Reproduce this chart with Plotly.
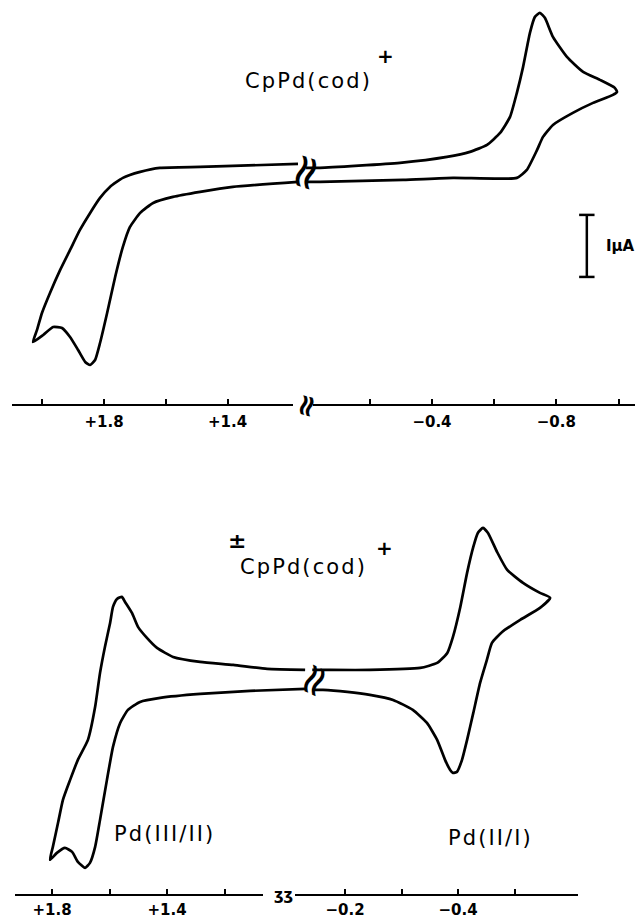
import plotly.graph_objects as go

# Voltamogramas CpPd(cod)+ : potencial (V) y corriente (uA), leidos de la figura
# panel superior, rama de potenciales positivos
top_left_v = [1.172, 1.383, 1.489, 1.619, 1.683, 1.739, 1.781, 1.813, 1.845, 1.878, 1.910, 1.942,
              1.975, 2.001, 2.017, 2.030, 1.997, 1.965, 1.936, 1.910, 1.884, 1.861, 1.845, 1.829,
              1.813, 1.790, 1.764, 1.739, 1.716, 1.683, 1.641, 1.577, 1.489, 1.383, 1.172]
top_left_i = [0.177, 0.145, 0.129, 0.113, 0.048, -0.048, -0.194, -0.371, -0.613, -0.887, -1.210, -1.532,
              -1.903, -2.226, -2.500, -2.694, -2.581, -2.452, -2.468, -2.613, -2.823, -3.016, -3.065, -2.984,
              -2.710, -2.226, -1.645, -1.161, -0.839, -0.613, -0.452, -0.355, -0.274, -0.194, -0.113]

# panel superior, rama de potenciales negativos
top_right_v = [0.005, -0.040, -0.297, -0.448, -0.522, -0.577, -0.619, -0.651, -0.673, -0.693, -0.715, -0.731,
               -0.747, -0.763, -0.789, -0.834, -0.886, -0.940, -0.988, -0.995, -0.982, -0.918, -0.853, -0.789,
               -0.757, -0.738, -0.705, -0.673, -0.468, -0.307, -0.040, 0.005]
top_right_i = [0.113, 0.113, 0.194, 0.290, 0.371, 0.484, 0.677, 0.935, 1.323, 1.742, 2.290, 2.548,
               2.613, 2.532, 2.226, 1.903, 1.661, 1.532, 1.403, 1.339, 1.290, 1.161, 1.000, 0.806,
               0.613, 0.403, 0.081, -0.048, -0.048, -0.081, -0.113, -0.113]

# panel inferior, rama positiva: Pd(III/II)
bot_left_v = [0.920, 1.052, 1.170, 1.285, 1.379, 1.435, 1.470, 1.501, 1.522, 1.546, 1.557, 1.574, 1.588,
              1.598, 1.616, 1.633, 1.650, 1.675, 1.710, 1.737, 1.762, 1.779, 1.797, 1.807, 1.783, 1.755,
              1.730, 1.710, 1.685, 1.668, 1.650, 1.633, 1.609, 1.588, 1.563, 1.536, 1.494, 1.424, 1.285,
              1.111, 0.920]
bot_left_i = [0.161, 0.177, 0.242, 0.290, 0.371, 0.516, 0.677, 0.855, 1.081, 1.258, 1.339, 1.306, 1.177,
              0.919, 0.532, 0.113, -0.435, -0.968, -1.290, -1.613, -1.935, -2.306, -2.694, -2.903, -2.790, -2.710,
              -2.774, -2.935, -3.032, -2.952, -2.694, -2.258, -1.613, -1.081, -0.694, -0.484, -0.355, -0.290, -0.226,
              -0.177, -0.145]

# panel inferior, rama negativa: Pd(II/I)
bot_right_v = [-0.142, -0.161, -0.244, -0.333, -0.363, -0.381, -0.391, -0.404, -0.416, -0.427, -0.435, -0.444,
               -0.453, -0.469, -0.487, -0.515, -0.545, -0.563, -0.545, -0.510, -0.478, -0.460, -0.451, -0.439,
               -0.427, -0.416, -0.407, -0.398, -0.391, -0.386, -0.377, -0.363, -0.345, -0.320, -0.285, -0.244,
               -0.204, -0.161, -0.142]
bot_right_i = [0.161, 0.161, 0.161, 0.194, 0.274, 0.435, 0.694, 1.177, 1.726, 2.145, 2.371, 2.452,
               2.371, 2.065, 1.774, 1.565, 1.403, 1.323, 1.161, 0.968, 0.774, 0.597, 0.323, -0.048,
               -0.532, -0.968, -1.290, -1.484, -1.500, -1.452, -1.290, -0.968, -0.694, -0.484, -0.323, -0.242,
               -0.194, -0.161, -0.161]

# barra de escala de 1 uA
scale_bar_v = [-0.898, -0.898]
scale_bar_i = [-0.645, -1.645]

# marcas de los ejes
top_left_ticks = [2.0, 1.8, 1.6, 1.4]
top_left_labels = ["", "+1.8", "", "+1.4"]
top_right_ticks = [-0.2, -0.4, -0.6, -0.8, -1.0]
top_right_labels = ["", "−0.4", "", "−0.8", ""]
bot_left_ticks = [1.8, 1.6, 1.4, 1.2]
bot_left_labels = ["+1.8", "", "+1.4", ""]
bot_right_ticks = [-0.2, -0.3, -0.4, -0.5]
bot_right_labels = ["−0.2", "", "−0.4", ""]

W, H = 640, 919
FONT = "DejaVu Sans"
HS = "\u200a"  # espacio fino para separar letras como en el original
curva = dict(color="black", width=2.7, shape="spline", smoothing=0.5)

fig = go.Figure()
fig.add_trace(go.Scatter(x=top_left_v, y=top_left_i, xaxis="x", yaxis="y", mode="lines", line=curva))
fig.add_trace(go.Scatter(x=top_right_v, y=top_right_i, xaxis="x2", yaxis="y", mode="lines", line=curva))
fig.add_trace(go.Scatter(x=bot_left_v, y=bot_left_i, xaxis="x3", yaxis="y2", mode="lines", line=curva))
fig.add_trace(go.Scatter(x=bot_right_v, y=bot_right_i, xaxis="x4", yaxis="y2", mode="lines", line=curva))
fig.add_trace(go.Scatter(x=scale_bar_v, y=scale_bar_i, xaxis="x2", yaxis="y", mode="lines+markers",
                         line=dict(color="black", width=2.5),
                         marker=dict(symbol="line-ew", size=11, line=dict(color="black", width=2.5))))


def eje_x(dominio, rango, ticks, labels, ancla, separacion):
    return dict(domain=[dominio[0] / W, dominio[1] / W], range=rango, anchor=ancla,
                tickvals=ticks, ticktext=labels, ticklabelstandoff=separacion,
                ticks="inside", ticklen=6, tickwidth=2, tickcolor="black",
                showline=False, showgrid=False, zeroline=False,
                tickfont=dict(family="DejaVu Sans", size=15, color="black", weight="bold"))


def eje_y(px_top, px_bottom, rango):
    return dict(domain=[1 - px_bottom / H, 1 - px_top / H], range=rango,
                visible=False, showgrid=False, zeroline=False)


fig.update_layout(
    width=W, height=H, margin=dict(l=0, r=0, t=0, b=0),
    paper_bgcolor="white", plot_bgcolor="white", showlegend=False,
    xaxis=eje_x((12, 302), [2.098, 1.159], top_left_ticks, top_left_labels, "y", 6),
    xaxis2=eje_x((304, 640), [0.0116, -1.069], top_right_ticks, top_right_labels, "y", 6),
    xaxis3=eje_x((10, 308), [1.946, 0.910], bot_left_ticks, bot_left_labels, "y2", 4),
    xaxis4=eje_x((310, 640), [-0.138, -0.722], bot_right_ticks, bot_right_labels, "y2", 4),
    yaxis=eje_y(0, 405, [-3.71, 2.82]),
    yaxis2=eje_y(440, 895, [-3.47, 3.87]),
)

# lineas de los ejes (cortadas)
for x0, x1, y in [(12, 293, 405), (313, 635, 405), (15, 263, 895), (295, 578, 895)]:
    fig.add_shape(type="line", xref="paper", yref="paper", x0=x0 / W, x1=x1 / W,
                  y0=1 - y / H, y1=1 - y / H, line=dict(color="black", width=2))


def texto(t, x, y, size, angle=0, bold=False):
    fig.add_annotation(text=t, x=x / W, y=1 - y / H, xanchor="center", yanchor="middle",
                       xref="paper", yref="paper", showarrow=False, textangle=angle,
                       font=dict(family=FONT, size=size, color="black",
                                 weight="bold" if bold else "normal"))


def espaciado(t):
    return HS.join(t)


texto(espaciado("CpPd(cod)"), 307, 81, 21)
texto("+", 385, 56, 20, bold=True)
texto("IµA", 620, 246, 15, bold=True)
texto("±", 237, 540, 22, bold=True)
texto(espaciado("CpPd(cod)"), 302, 567, 21)
texto("+", 384, 548, 20, bold=True)
texto(espaciado("Pd(III/II)"), 163, 834, 21)
texto(espaciado("Pd(II/I)"), 489, 838, 21)

# simbolos de corte
texto("≈", 304, 172, 48, angle=-72)
texto("≈", 305, 406, 30, angle=-75, bold=True)
texto("≈", 312, 680, 44, angle=-65)
texto("ʒʒ", 283, 895, 15, bold=True)

# sin margen en la pagina, para que la figura ocupe la ventana justa
fig.write_html("out.html", config={"displayModeBar": False},
               post_script="document.body.style.margin='0';"
                           "document.body.style.overflow='hidden';")
